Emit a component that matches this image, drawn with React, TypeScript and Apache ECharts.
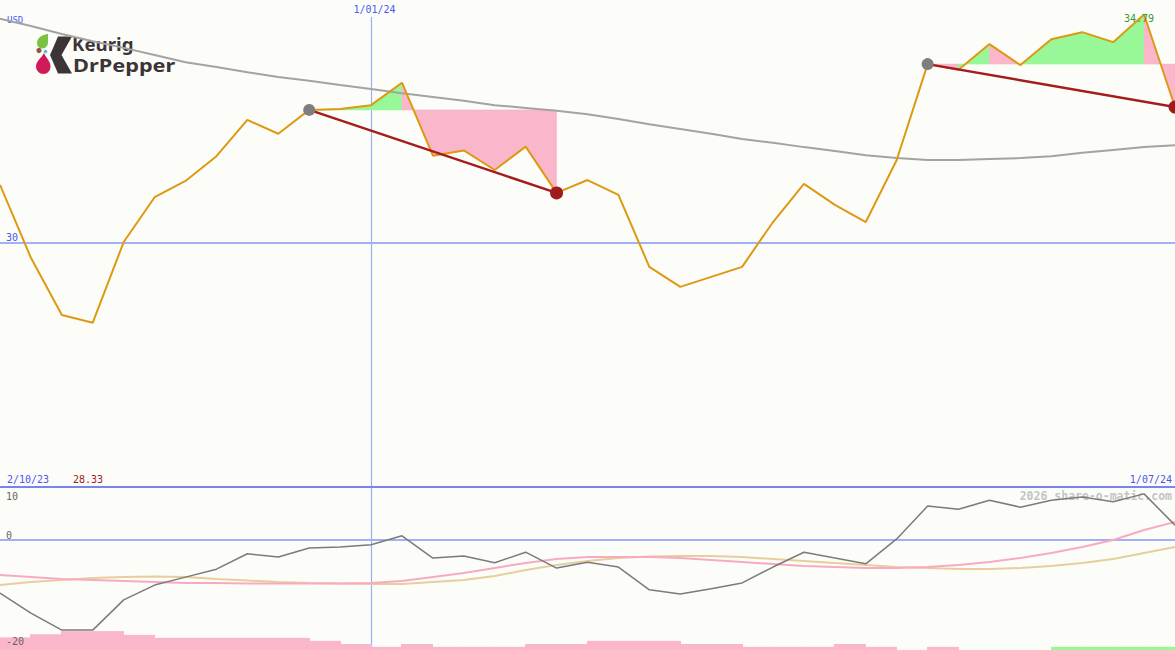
import React, { useEffect, useRef } from "react";
import * as echarts from "echarts";

// ---------- data ----------
const dates = [
  "9/10/23", "16/10/23", "23/10/23", "30/10/23", "6/11/23", "13/11/23", "20/11/23", "27/11/23",
  "4/12/23", "11/12/23", "18/12/23", "25/12/23", "1/01/24", "8/01/24", "15/01/24", "22/01/24",
  "29/01/24", "5/02/24", "12/02/24", "19/02/24", "26/02/24", "4/03/24", "11/03/24", "18/03/24",
  "25/03/24", "1/04/24", "8/04/24", "15/04/24", "22/04/24", "29/04/24", "6/05/24", "13/05/24",
  "20/05/24", "27/05/24", "3/06/24", "10/06/24", "17/06/24", "24/06/24", "1/07/24",
];
const price = [
  31.22, 29.69, 28.49, 28.33, 30.02, 30.96, 31.3, 31.82, 32.58, 32.29, 32.79, 32.81, 32.89,
  33.36, 31.83, 31.94, 31.53, 32.02, 31.05, 31.32, 31.01, 29.5, 29.08, 29.29, 29.5, 30.44,
  31.24, 30.8, 30.44, 31.74, 33.75, 33.63, 34.17, 33.73, 34.27, 34.42, 34.21, 34.79, 32.85,
];
const movingAvg = [
  34.7, 34.55, 34.38, 34.23, 34.09, 33.94, 33.79, 33.69, 33.58, 33.48, 33.4, 33.31, 33.23,
  33.14, 33.06, 32.98, 32.89, 32.83, 32.77, 32.7, 32.6, 32.49, 32.39, 32.29, 32.18, 32.1,
  32.01, 31.93, 31.84, 31.78, 31.74, 31.74, 31.76, 31.78, 31.82, 31.89, 31.95, 32.01, 32.05,
];
const oscillator = [
  -10.0, -13.8, -17.0, -17.0, -11.3, -8.5, -7.0, -5.5, -2.6, -3.2, -1.5, -1.3, -0.9, 0.8,
  -3.4, -3.0, -4.3, -2.3, -5.3, -4.2, -5.1, -9.4, -10.2, -9.2, -8.1, -5.1, -2.3, -3.4, -4.5,
  0.2, 6.4, 5.8, 7.5, 6.2, 7.5, 8.1, 7.2, 8.7, 2.8,
];
const pinkAvg = [
  -6.6, -6.98, -7.36, -7.55, -7.74, -7.92, -8.11, -8.11, -8.21, -8.21, -8.21, -8.21, -8.11,
  -7.74, -6.98, -6.23, -5.28, -4.34, -3.58, -3.21, -3.21, -3.21, -3.4, -3.77, -4.15, -4.53,
  -4.91, -5.09, -5.28, -5.28, -5.09, -4.72, -4.15, -3.4, -2.45, -1.32, 0.0, 1.89, 3.4,
];
const tanAvg = [
  -8.49, -7.92, -7.55, -7.17, -6.98, -6.89, -6.98, -7.36, -7.64, -7.92, -8.11, -8.21, -8.3,
  -8.3, -7.92, -7.55, -6.79, -5.66, -4.72, -3.96, -3.4, -3.11, -3.02, -3.02, -3.21, -3.58,
  -3.96, -4.34, -4.72, -5.09, -5.28, -5.47, -5.47, -5.28, -4.91, -4.34, -3.58, -2.45, -1.32,
];
// one bar per week interval; negative = pink, positive = green
const histogram = [
  -4, -5, -6, -6, -4.8, -3.85, -3.85, -3.85, -3.85, -3.85, -2.9, -1.9, -1, -1.9, -1, -1, -1,
  -1.9, -1.9, -2.9, -2.9, -2.9, -1.9, -1.9, -1, -1, -1, -1.9, -1, 0, -1, 0, 0, 0, 1, 1, 1, 1,
];
const trades = [
  { entry: 10, exit: 18 },
  { entry: 30, exit: 38 },
];
const mainTicks = [30];
const lowerTicks = [10, 0, -20];
const zeroLine = 0;
const markDateIndex = 12;
const currencyLabel = "USD";
const startLabel = "2/10/23";
const lowLabel = "28.33";
const highLabel = "34.79";
const highIndex = 37;
const endLabel = "1/07/24";
const watermark = "2026 share-o-matic.com";

// ---------- styles ----------
const BG = "#fcfdf9";
const BLUE_TXT = "#4a58f0";
const BLUE_LINE = "#a2b0f8";
const MONO = '"DejaVu Sans Mono", monospace';
const GREEN_FILL = "#98f898";
const PINK_FILL = "#fab6ca";

const GREEN_DROP = "M48 34 C42 34.5 37 38 37 43 C37 46.5 39.5 48.5 42.5 48.5 C46 48.5 48 45.5 48 42 Z";
const RED_DROP =
  "M44 53 C41.5 58 36 61 36 66.5 C36 70.8 39.5 74 43.5 74 C47.5 74 50.5 70.8 50.5 66.5 C50.5 61 46 58 44 53 Z";

export default function App() {
  const ref = useRef<HTMLDivElement>(null);

  useEffect(() => {
    if (!ref.current) return;
    try {
      echarts.graphic.registerShape("kdpGreenDrop", echarts.graphic.extendPath(GREEN_DROP, {}));
      echarts.graphic.registerShape("kdpRedDrop", echarts.graphic.extendPath(RED_DROP, {}));
    } catch (e) {
      // already registered
    }
    const chart = echarts.init(ref.current, null, { renderer: "svg" });

    const fillData: number[][] = [];
    trades.forEach((t) => {
      const level = price[t.entry];
      for (let i = t.entry; i < t.exit; i++) fillData.push([i, price[i], price[i + 1], level]);
    });

    const option: any = {
      animation: false,
      backgroundColor: BG,
      grid: [
        { left: 0, right: 0, top: 0, height: 487 },
        { left: 0, right: 0, top: 487, height: 163 },
      ],
      xAxis: [
        { type: "category", gridIndex: 0, data: dates, boundaryGap: false, show: false },
        { type: "category", gridIndex: 1, data: dates, boundaryGap: false, show: false },
      ],
      yAxis: [
        { type: "value", gridIndex: 0, min: 24.885, max: 35.094, show: false },
        { type: "value", gridIndex: 1, min: -20.75, max: 10, show: false },
        { type: "value", gridIndex: 1, min: 0, max: 51.7, show: false },
      ],
      series: [
        {
          type: "custom",
          xAxisIndex: 0,
          yAxisIndex: 0,
          z: 1,
          silent: true,
          encode: { x: 0, y: [1, 2, 3] },
          data: fillData,
          renderItem: (params: any, api: any) => {
            const i = api.value(0);
            const a = api.value(1);
            const b = api.value(2);
            const lv = api.value(3);
            const p1 = api.coord([i, lv]);
            const p2 = api.coord([i, a]);
            const p3 = api.coord([i + 1, b]);
            const p4 = api.coord([i + 1, lv]);
            const fill = b >= lv ? GREEN_FILL : PINK_FILL;
            return {
              type: "polygon",
              shape: { points: [p1, p2, p3, p4] },
              style: { fill, stroke: fill, lineWidth: 0.6 },
            };
          },
        },
        {
          type: "line",
          xAxisIndex: 0,
          yAxisIndex: 0,
          z: 2,
          data: movingAvg,
          showSymbol: false,
          symbol: "none",
          silent: true,
          lineStyle: { color: "#a3a3a3", width: 2 },
        },
        {
          type: "line",
          xAxisIndex: 0,
          yAxisIndex: 0,
          z: 3,
          data: price,
          showSymbol: false,
          symbol: "none",
          silent: true,
          lineStyle: { color: "#dd9912", width: 2 },
        },
        ...trades.map((t) => ({
          type: "line",
          xAxisIndex: 0,
          yAxisIndex: 0,
          z: 4,
          data: [
            [t.entry, price[t.entry]],
            [t.exit, price[t.exit]],
          ],
          showSymbol: false,
          symbol: "none",
          silent: true,
          lineStyle: { color: "#a41c1c", width: 2.5 },
        })),
        {
          type: "scatter",
          xAxisIndex: 0,
          yAxisIndex: 0,
          z: 5,
          symbolSize: 12,
          silent: true,
          itemStyle: { color: "#7e7e7e", opacity: 1 },
          data: trades.map((t) => [t.entry, price[t.entry]]),
        },
        {
          type: "scatter",
          xAxisIndex: 0,
          yAxisIndex: 0,
          z: 5,
          symbolSize: 13,
          silent: true,
          itemStyle: { color: "#a01c1c", opacity: 1 },
          data: trades.map((t) => [t.exit, price[t.exit]]),
        },
        {
          type: "custom",
          xAxisIndex: 1,
          yAxisIndex: 2,
          z: 1,
          silent: true,
          encode: { x: 0, y: 1 },
          data: histogram.map((v, i) => [i, v]),
          renderItem: (params: any, api: any) => {
            const i = api.value(0);
            const v = api.value(1);
            if (!v) return null;
            const p0 = api.coord([i, Math.abs(v)]);
            const p1 = api.coord([i + 1, 0]);
            const x0 = Math.floor(p0[0]);
            const x1 = Math.ceil(p1[0]);
            return {
              type: "rect",
              shape: { x: x0, y: p0[1], width: x1 - x0, height: p1[1] - p0[1] },
              style: { fill: v < 0 ? PINK_FILL : GREEN_FILL, stroke: null },
            };
          },
        },
        {
          type: "line",
          xAxisIndex: 1,
          yAxisIndex: 1,
          z: 2,
          data: tanAvg,
          showSymbol: false,
          symbol: "none",
          silent: true,
          lineStyle: { color: "#e6cf9c", width: 2 },
        },
        {
          type: "line",
          xAxisIndex: 1,
          yAxisIndex: 1,
          z: 2,
          data: pinkAvg,
          showSymbol: false,
          symbol: "none",
          silent: true,
          lineStyle: { color: "#f8aac2", width: 2 },
        },
        {
          type: "line",
          xAxisIndex: 1,
          yAxisIndex: 1,
          z: 3,
          data: oscillator,
          showSymbol: false,
          symbol: "none",
          silent: true,
          lineStyle: { color: "#7b7b7b", width: 1.5 },
        },
      ],
    };
    chart.setOption(option);

    const txt = (
      text: string,
      x: number,
      y: number,
      fill: string,
      align = "left",
      font = `10px ${MONO}`,
      z = 50
    ) => ({
      type: "text",
      x,
      y,
      z,
      silent: true,
      style: {
        text,
        fill,
        font,
        align,
        textAlign: align,
        verticalAlign: "middle",
        textVerticalAlign: "middle",
      },
    });

    const W = 1175;
    const H = 650;
    const gridTop1 = 487;
    const markX = Math.round(chart.convertToPixel({ xAxisIndex: 0 }, markDateIndex) as number) + 0.5;
    const elements: any[] = [];

    // guide lines
    mainTicks.forEach((v) => {
      const y = chart.convertToPixel({ yAxisIndex: 0 }, v) as number;
      elements.push({ type: "line", silent: true, shape: { x1: 0, y1: y, x2: W, y2: y }, style: { stroke: BLUE_LINE, lineWidth: 2 } });
      elements.push(txt(String(v), 6, y - 5, BLUE_TXT));
    });
    const zy = chart.convertToPixel({ yAxisIndex: 1 }, zeroLine) as number;
    elements.push({ type: "line", silent: true, shape: { x1: 0, y1: zy, x2: W, y2: zy }, style: { stroke: BLUE_LINE, lineWidth: 2 } });
    lowerTicks.forEach((v) => {
      const y = chart.convertToPixel({ yAxisIndex: 1 }, v) as number;
      elements.push(txt(String(v), 6, Math.max(y - 5, gridTop1 + 9), "#666666"));
    });
    elements.push({ type: "line", silent: true, shape: { x1: markX, y1: 17, x2: markX, y2: H }, style: { stroke: "#9eacf8", lineWidth: 1.2 } });
    elements.push({ type: "line", silent: true, z: 40, shape: { x1: 0, y1: gridTop1, x2: W, y2: gridTop1 }, style: { stroke: "#7686ee", lineWidth: 2 } });

    // texts
    elements.push(txt(dates[markDateIndex], markX + 3, 9, BLUE_TXT, "center"));
    elements.push(txt(currencyLabel, 7, 20, BLUE_TXT, "left", `9px ${MONO}`, 0));
    const hp = chart.convertToPixel({ gridIndex: 0 }, [highIndex, price[highIndex]]) as number[];
    elements.push(txt(highLabel, hp[0] - 5, hp[1] + 4, "#2e9e2e", "center"));
    elements.push(txt(startLabel, 7, 479, BLUE_TXT));
    elements.push(txt(lowLabel, 73, 479, "#a01c1c"));
    elements.push(txt(endLabel, 1172, 479, BLUE_TXT, "right"));
    elements.push(txt(watermark, 1172, 496, "#c4c4c4", "right", `bold 11.5px ${MONO}`, 0));

    // logo
    elements.push({ type: "kdpGreenDrop", x: 0, y: 0, silent: true, style: { fill: "#7cc242" } });
    elements.push({ type: "kdpRedDrop", x: 0, y: 0, silent: true, style: { fill: "#d11a5a" } });
    elements.push({ type: "circle", silent: true, shape: { cx: 39, cy: 50.5, r: 2.6 }, style: { fill: "#8b5a45" } });
    elements.push({ type: "circle", silent: true, shape: { cx: 45.5, cy: 51.5, r: 1.8 }, style: { fill: "#4cc3e6" } });
    elements.push({
      type: "polygon",
      silent: true,
      shape: { points: [[58, 36.5], [72, 36.5], [61.5, 55], [72, 73.5], [58, 73.5], [50, 55]] },
      style: { fill: "#3d3438" },
    });
    elements.push({
      ...txt("Keurig", 72, 44.5, "#3d3438", "left", 'bold 17px "Noto Sans"', 0),
      scaleX: 1.1,
    });
    elements.push({
      ...txt("DrPepper", 73, 65, "#3d3438", "left", 'bold 17px "Noto Sans"', 0),
      scaleX: 1.28,
    });

    chart.setOption({ graphic: { elements } });

    return () => chart.dispose();
  }, []);

  return (
    <div
      ref={ref}
      style={{ position: "fixed", left: 0, top: 0, width: 1175, height: 650, background: BG }}
    />
  );
}
